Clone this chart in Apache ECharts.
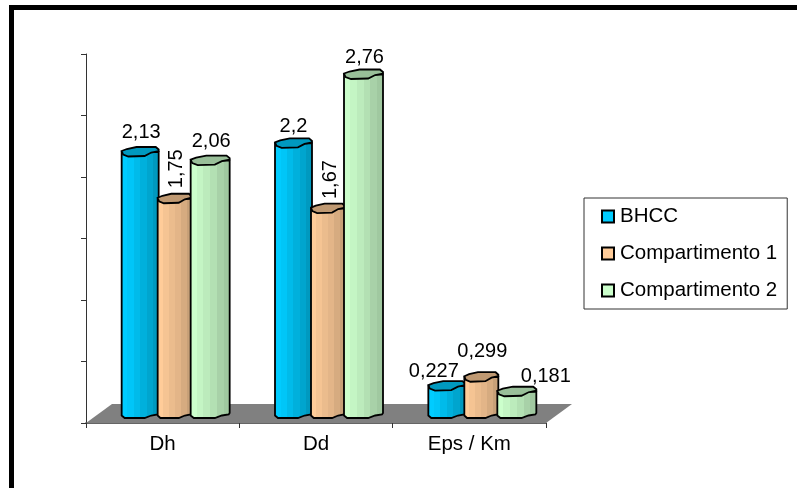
<!DOCTYPE html>
<html>
<head>
<meta charset="utf-8">
<style>html,body{margin:0;padding:0;background:#fff}#chart{width:797px;height:488px}</style>
<script src="https://cdn.jsdelivr.net/npm/echarts@6/dist/echarts.min.js"></script>
</head>
<body>
<div id="chart"></div>
<script>
// Chart data
const categories = ['Dh', 'Dd', 'Eps / Km'];
const bhcc = [2.13, 2.2, 0.227];
const compartimento1 = [1.75, 1.67, 0.299];
const compartimento2 = [2.06, 2.76, 0.181];
const bhccLabels = ['2,13', '2,2', '0,227'];
const comp1Labels = ['1,75', '1,67', '0,299'];
const comp2Labels = ['2,06', '2,76', '0,181'];
const yMin = 0;
const yMax = 3;
const yStep = 0.5;

// Perspective of the pseudo-3D floor, in pixels
const DEPTH_X = 26;
const DEPTH_Y = 19;
const LIFT = 9;
const FONT = '"Liberation Sans", Arial, sans-serif';

// Cylinder look of each series: front shading bands and lid colour
const looks = [
  { face: ['#00ccff', '#00c6f8', '#00bbea', '#00b0dc', '#00a5ce', '#0099bf'], lid: '#0099bf' },
  { face: ['#ffcc99', '#f5c493', '#ebbc8d', '#e3b588', '#d6ab80', '#c7a078'], lid: '#bf9972' },
  { face: ['#ccffcc', '#c4f5c4', '#bcebbc', '#b3e0b3', '#a8d1a8', '#a0c8a0'], lid: '#99bf99' }
];

// Per-series column placement relative to the category centre, and value-label placement
const columnSpan = [[-41, -4], [-5, 29], [28, 67]];
const labelPlacement = [
  [{ dx: 1, dy: -20 }, { dx: 0, dy: -17 }, { dx: -13, dy: -15 }],
  [{ dx: 2, dy: -30, rotate: 90 }, { dx: 2, dy: -29, rotate: 90 }, { dx: 1, dy: -26 }],
  [{ dx: 1, dy: -19 }, { dx: 1, dy: -17 }, { dx: 29, dy: -15 }]
];

function bandStops(colors) {
  const stops = [];
  colors.forEach((c, i) => {
    stops.push({ offset: i / colors.length, color: c });
    stops.push({ offset: (i + 1) / colors.length, color: c });
  });
  return stops;
}

function columnRenderer(seriesIdx, labels) {
  return function (params, api) {
    const idx = api.value(0);
    const val = api.value(1);
    const centre = api.coord([idx, 0]);
    const top = api.coord([idx, val])[1] - LIFT;
    const base = centre[1] - LIFT;
    const band = columnSpan[seriesIdx];
    const x0 = centre[0] + band[0];
    const x1 = centre[0] + band[1];
    const w = x1 - x0;
    const look = looks[seriesIdx];
    const outline = [
      [x0, top],
      [x0, base + 1.5],
      [x0 + 0.08 * w, base + 4],
      [x0 + 0.62 * w, base + 4],
      [x0 + 0.8 * w, base + 1.5],
      [x1 - 1, base + 0.5],
      [x1, base - 1],
      [x1, top]
    ];
    const lid = [
      [x0, top - 1],
      [x0 + 0.14 * w, top - 3],
      [x0 + 0.4 * w, top - 5],
      [x1 - 0.08 * w, top - 5],
      [x1, top - 2.5],
      [x1, top - 1],
      [x1 - 0.2 * w, top + 0.5],
      [x1 - 0.38 * w, top + 4],
      [x0 + 0.18 * w, top + 4.5],
      [x0 + 0.04 * w, top + 2.5]
    ];
    const place = labelPlacement[seriesIdx][idx];
    return {
      type: 'group',
      children: [
        {
          type: 'polygon',
          shape: { points: outline },
          style: {
            fill: { type: 'linear', x: 0, y: 0, x2: 1, y2: 0, colorStops: bandStops(look.face) },
            stroke: '#000',
            lineWidth: 1.8
          }
        },
        {
          type: 'polygon',
          shape: { points: lid },
          style: { fill: look.lid, stroke: '#000', lineWidth: 1.8 }
        },
        {
          type: 'text',
          x: (x0 + x1) / 2 + place.dx,
          y: top + place.dy,
          rotation: place.rotate ? place.rotate * Math.PI / 180 : 0,
          style: {
            text: labels[idx],
            fill: '#000',
            font: '20px ' + FONT,
            textAlign: 'center',
            textVerticalAlign: 'middle'
          }
        }
      ]
    };
  };
}

function makeSeries(name, values, labels, seriesIdx) {
  return {
    name: name,
    type: 'custom',
    coordinateSystem: 'cartesian2d',
    clip: false,
    itemStyle: { color: looks[seriesIdx].face[0], borderColor: '#000', borderWidth: 1 },
    encode: { x: 0, y: 1 },
    data: values.map((v, i) => [i, v]),
    renderItem: columnRenderer(seriesIdx, labels),
    z: 5 + seriesIdx
  };
}

const chart = echarts.init(document.getElementById('chart'), null, { renderer: 'canvas' });

chart.setOption({
  animation: false,
  backgroundColor: '#fff',
  grid: { left: 86, top: 54, width: 460, height: 369, containLabel: false },
  xAxis: {
    type: 'category',
    data: categories,
    boundaryGap: true,
    axisLine: { show: true, onZero: false, lineStyle: { color: '#333', width: 1.5 } },
    axisTick: { show: true, length: 5, inside: false, alignWithLabel: false, lineStyle: { color: '#333' } },
    axisLabel: { color: '#000', fontFamily: FONT, fontSize: 20.5, margin: 11 }
  },
  yAxis: {
    type: 'value',
    min: yMin,
    max: yMax,
    interval: yStep,
    axisLine: { show: true, lineStyle: { color: '#333', width: 1 } },
    axisTick: { show: true, length: 5, lineStyle: { color: '#333' } },
    axisLabel: { show: false },
    splitLine: { show: false }
  },
  legend: {
    orient: 'vertical',
    left: 584,
    top: 198,
    padding: [8, 10, 8, 17],
    icon: 'rect',
    itemWidth: 12,
    itemHeight: 12,
    itemGap: 16,
    borderColor: '#333',
    borderWidth: 1,
    backgroundColor: '#fff',
    textStyle: { color: '#000', fontFamily: FONT, fontSize: 20.5, padding: [0, 0, 0, 1] },
    data: ['BHCC', 'Compartimento 1', 'Compartimento 2']
  },
  graphic: [
    // Outer frame: top and left rules only
    { type: 'rect', shape: { x: 9, y: 5, width: 788, height: 5 }, style: { fill: '#000' }, silent: true },
    { type: 'rect', shape: { x: 9, y: 5, width: 5, height: 483 }, style: { fill: '#000' }, silent: true },
    // Grey floor under the columns
    {
      type: 'polygon',
      z: 1,
      silent: true,
      shape: { points: [[86, 423], [546, 423], [546 + DEPTH_X, 423 - DEPTH_Y], [86 + DEPTH_X, 423 - DEPTH_Y]] },
      style: { fill: '#808080' }
    }
  ],
  series: [
    makeSeries('BHCC', bhcc, bhccLabels, 0),
    makeSeries('Compartimento 1', compartimento1, comp1Labels, 1),
    makeSeries('Compartimento 2', compartimento2, comp2Labels, 2)
  ]
});
</script>
</body>
</html>
